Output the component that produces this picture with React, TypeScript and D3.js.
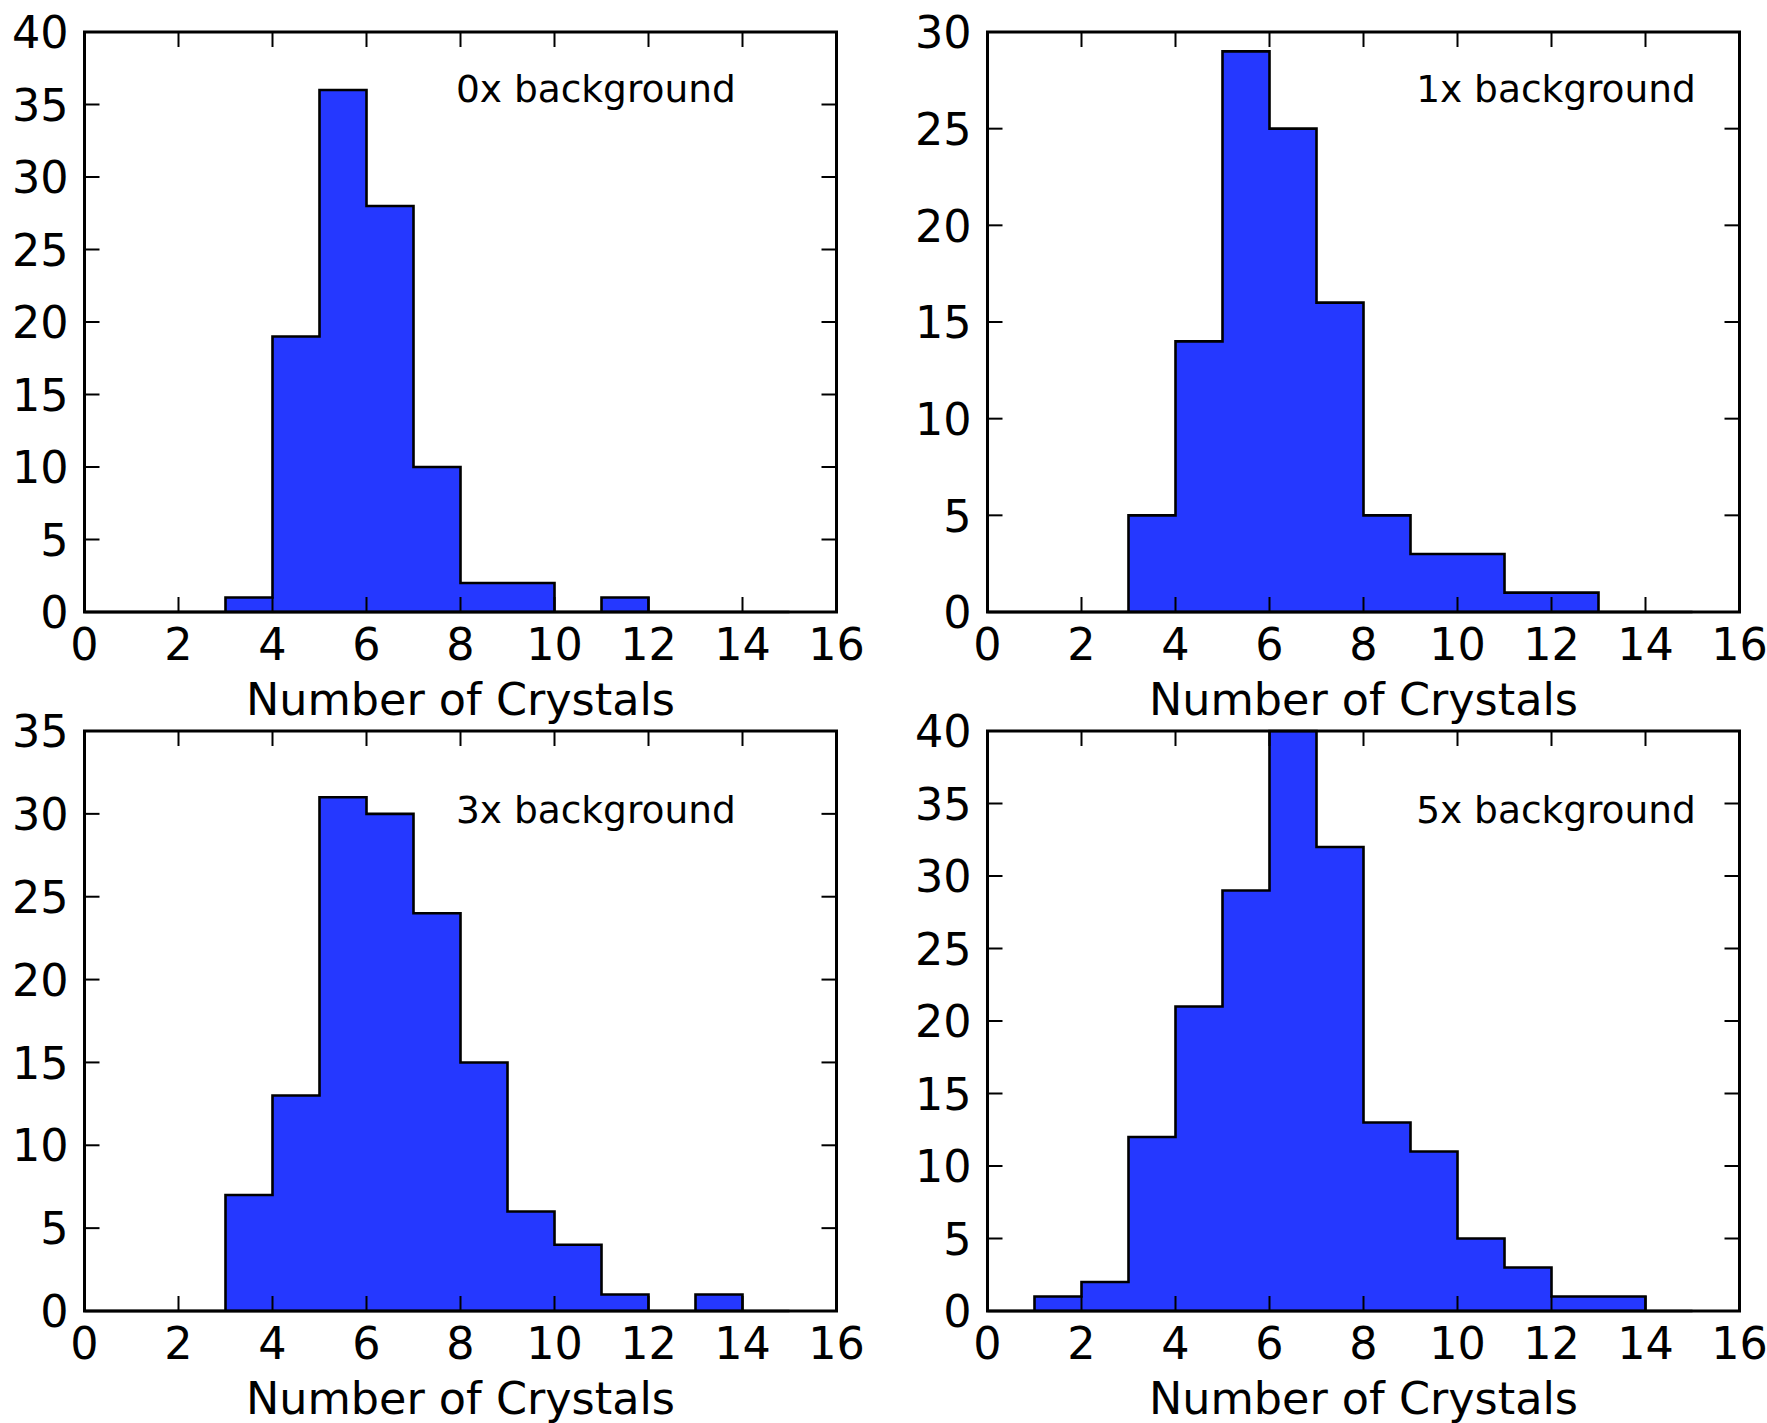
import React from 'react';
import * as d3 from 'd3';

// ---- data ----
const binStarts = d3.range(0, 15); // bins [k, k+1)
const counts0x = [0, 0, 0, 1, 19, 36, 28, 10, 2, 2, 0, 1, 0, 0, 0];
const counts1x = [0, 0, 0, 5, 14, 29, 25, 16, 5, 3, 3, 1, 1, 0, 0];
const counts3x = [0, 0, 0, 7, 13, 31, 30, 24, 15, 6, 4, 1, 0, 1, 0];
const counts5x = [0, 1, 2, 12, 21, 29, 40, 32, 13, 11, 5, 3, 1, 1, 0];
const panelLabels = ['0x background', '1x background', '3x background', '5x background'];
const yMaxes = [40, 30, 35, 40];
const xTicks = [0, 2, 4, 6, 8, 10, 12, 14, 16];
const xLabel = 'Number of Crystals';

// ---- layout ----
const W = 1767;
const H = 1423;
const lefts = [84.5, 987.5];
const tops = [32, 731];
const AW = 752;
const AH = 580;
const annotFracX = [0.494, 0.57, 0.494, 0.57];
const annotFracY = [0.12, 0.12, 0.158, 0.158];
const FONT = '"DejaVu Sans", sans-serif';
const BAR_COLOR = '#2538ff';
const TICK_LEN = 15;
const FS = 44.5;

type PanelProps = {
  x0: number; y0: number; counts: number[]; yMax: number; label: string; ax: number; ay: number;
};

function Panel({ x0, y0, counts, yMax, label, ax, ay }: PanelProps) {
  const x = d3.scaleLinear().domain([0, 16]).range([x0, x0 + AW]);
  const y = d3.scaleLinear().domain([0, yMax]).range([y0 + AH, y0]);
  const yTicks = d3.range(0, yMax + 0.001, 5);
  // stepfilled outline: baseline start, step through bins, back to baseline
  const pts: [number, number][] = [[binStarts[0], 0]];
  binStarts.forEach((b, i) => {
    pts.push([b, counts[i]]);
    pts.push([b + 1, counts[i]]);
  });
  pts.push([binStarts[binStarts.length - 1] + 1, 0]);
  const line = d3
    .line<[number, number]>()
    .x((d) => x(d[0]))
    .y((d) => y(d[1]));
  const path = line(pts) + 'Z';
  return (
    <g>
      <path d={path} fill={BAR_COLOR} stroke="#000" strokeWidth={2.6} strokeLinejoin="miter" />
      {/* ticks */}
      {xTicks.map((t) => (
        <g key={'xt' + t}>
          <line x1={x(t)} x2={x(t)} y1={y0 + AH} y2={y0 + AH - TICK_LEN} stroke="#000" strokeWidth={2} />
          <line x1={x(t)} x2={x(t)} y1={y0} y2={y0 + TICK_LEN} stroke="#000" strokeWidth={2} />
          <text x={x(t)} y={y0 + AH + 47.5} fontSize={FS} fontFamily={FONT} textAnchor="middle" fill="#000">
            {t}
          </text>
        </g>
      ))}
      {yTicks.map((t) => (
        <g key={'yt' + t}>
          <line x1={x0} x2={x0 + TICK_LEN} y1={y(t)} y2={y(t)} stroke="#000" strokeWidth={2} />
          <line x1={x0 + AW} x2={x0 + AW - TICK_LEN} y1={y(t)} y2={y(t)} stroke="#000" strokeWidth={2} />
          <text x={x0 - 16} y={y(t) + 16.2} fontSize={FS} fontFamily={FONT} textAnchor="end" fill="#000">
            {t}
          </text>
        </g>
      ))}
      <rect x={x0} y={y0} width={AW} height={AH} fill="none" stroke="#000" strokeWidth={3} />
      <text x={x0 + ax * AW} y={y0 + ay * AH} fontSize={37.5} fontFamily={FONT} fill="#000">
        {label}
      </text>
      <text x={x0 + AW / 2} y={y0 + AH + 102.5} fontSize={FS} fontFamily={FONT} textAnchor="middle" fill="#000">
        {xLabel}
      </text>
    </g>
  );
}

export default function App() {
  const allCounts = [counts0x, counts1x, counts3x, counts5x];
  return (
    <svg
      width={W}
      height={H}
      viewBox={`0 0 ${W} ${H}`}
      style={{ position: 'absolute', left: 0, top: 0, background: '#fff' }}
    >
      <rect x={0} y={0} width={W} height={H} fill="#fff" />
      {allCounts.map((c, i) => (
        <Panel
          key={i}
          x0={lefts[i % 2]}
          y0={tops[Math.floor(i / 2)]}
          counts={c}
          yMax={yMaxes[i]}
          label={panelLabels[i]}
          ax={annotFracX[i]}
          ay={annotFracY[i]}
        />
      ))}
    </svg>
  );
}
